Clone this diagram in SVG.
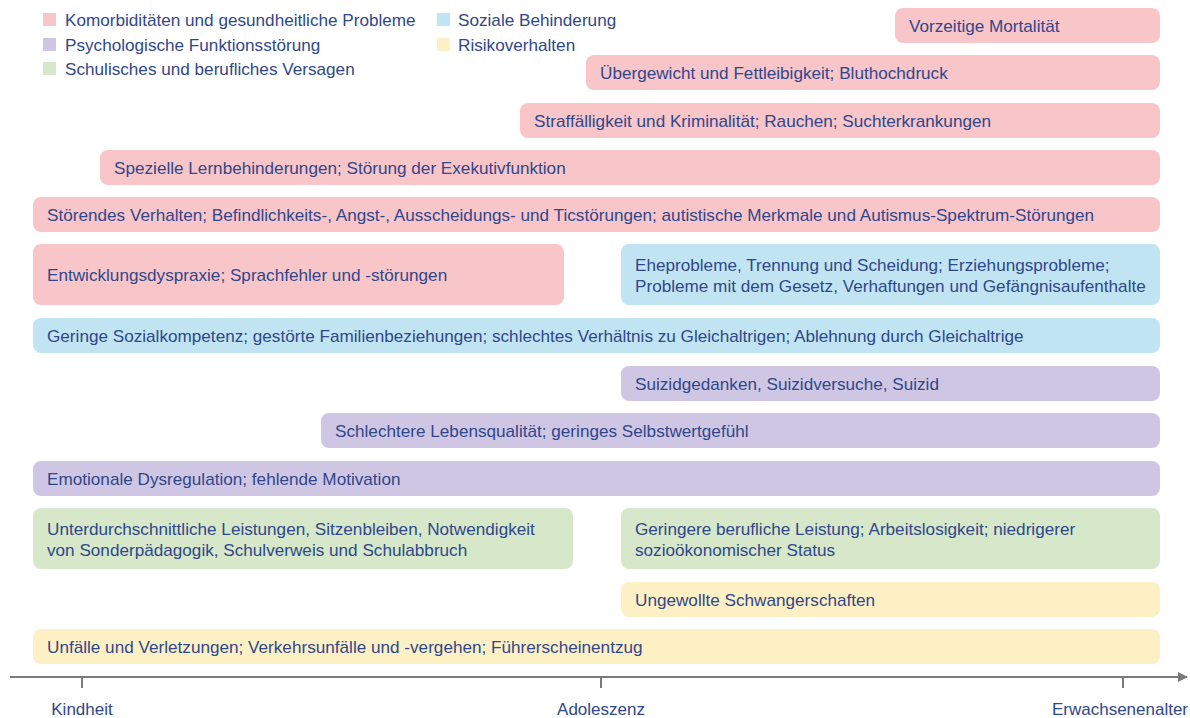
<svg xmlns="http://www.w3.org/2000/svg" width="1190" height="718" viewBox="0 0 1190 718">
<defs>
<style>
text{font-family:"Liberation Sans",Arial,sans-serif;font-size:17.15px;fill:#30478b}
.pink{fill:#f8c5c9}
.blue{fill:#c1e4f3}
.purple{fill:#cfc6e4}
.green{fill:#d6e8c9}
.yellow{fill:#fef0c5}
.axis{stroke:#7a7a7a;stroke-width:2;fill:none}
.ax{text-anchor:middle;font-size:17px}
</style>
<marker id="arr" viewBox="0 0 10 10" refX="9" refY="5" markerWidth="5" markerHeight="5" orient="auto" markerUnits="strokeWidth">
<path d="M0,0 L10,5 L0,10 z" fill="#7a7a7a"/>
</marker>
</defs>
<rect width="1190" height="718" fill="#ffffff"/>
<g id="legend">
<rect class="pink" x="43" y="13" width="13" height="13"/><text x="65" y="26">Komorbiditäten und gesundheitliche Probleme</text>
<rect class="purple" x="43" y="38" width="13" height="13"/><text x="65" y="51">Psychologische Funktionsstörung</text>
<rect class="green" x="43" y="62" width="13" height="13"/><text x="65" y="75">Schulisches und berufliches Versagen</text>
<rect class="blue" x="437" y="13" width="13" height="13"/><text x="458" y="26">Soziale Behinderung</text>
<rect class="yellow" x="437" y="38" width="13" height="13"/><text x="458" y="51">Risikoverhalten</text>
</g>
<g id="n1"><rect class="pink" x="895" y="8" width="265" height="35" rx="8"/><text x="909" y="31.5">Vorzeitige Mortalität</text></g>
<g id="n2"><rect class="pink" x="586" y="55" width="574" height="35" rx="8"/><text x="600" y="78.5">Übergewicht und Fettleibigkeit; Bluthochdruck</text></g>
<g id="n3"><rect class="pink" x="520" y="103" width="640" height="35" rx="8"/><text x="534" y="126.5">Straffälligkeit und Kriminalität; Rauchen; Suchterkrankungen</text></g>
<g id="n4"><rect class="pink" x="100" y="150" width="1060" height="35" rx="8"/><text x="114" y="173.5">Spezielle Lernbehinderungen; Störung der Exekutivfunktion</text></g>
<g id="n5"><rect class="pink" x="33" y="197" width="1127" height="35" rx="8"/><text x="47" y="220.5">Störendes Verhalten; Befindlichkeits-, Angst-, Ausscheidungs- und Ticstörungen; autistische Merkmale und Autismus-Spektrum-Störungen</text></g>
<g id="n6"><rect class="pink" x="33" y="244" width="531" height="61" rx="8"/><text x="47" y="281">Entwicklungsdyspraxie; Sprachfehler und -störungen</text></g>
<g id="n7"><rect class="blue" x="621" y="244" width="539" height="61" rx="8"/><text x="635" y="271">Eheprobleme, Trennung und Scheidung; Erziehungsprobleme;</text><text x="635" y="292">Probleme mit dem Gesetz, Verhaftungen und Gefängnisaufenthalte</text></g>
<g id="n8"><rect class="blue" x="33" y="318" width="1127" height="35" rx="8"/><text x="47" y="341.5">Geringe Sozialkompetenz; gestörte Familienbeziehungen; schlechtes Verhältnis zu Gleichaltrigen; Ablehnung durch Gleichaltrige</text></g>
<g id="n9"><rect class="purple" x="621" y="366" width="539" height="35" rx="8"/><text x="635" y="389.5">Suizidgedanken, Suizidversuche, Suizid</text></g>
<g id="n10"><rect class="purple" x="321" y="413" width="839" height="35" rx="8"/><text x="335" y="436.5">Schlechtere Lebensqualität; geringes Selbstwertgefühl</text></g>
<g id="n11"><rect class="purple" x="33" y="461" width="1127" height="35" rx="8"/><text x="47" y="484.5">Emotionale Dysregulation; fehlende Motivation</text></g>
<g id="n12"><rect class="green" x="33" y="508" width="540" height="61" rx="8"/><text x="47" y="535">Unterdurchschnittliche Leistungen, Sitzenbleiben, Notwendigkeit</text><text x="47" y="556">von Sonderpädagogik, Schulverweis und Schulabbruch</text></g>
<g id="n13"><rect class="green" x="621" y="508" width="539" height="61" rx="8"/><text x="635" y="535">Geringere berufliche Leistung; Arbeitslosigkeit; niedrigerer</text><text x="635" y="556">sozioökonomischer Status</text></g>
<g id="n14"><rect class="yellow" x="621" y="582" width="539" height="35" rx="8"/><text x="635" y="605.5">Ungewollte Schwangerschaften</text></g>
<g id="n15"><rect class="yellow" x="33" y="629" width="1127" height="35" rx="8"/><text x="47" y="652.5">Unfälle und Verletzungen; Verkehrsunfälle und -vergehen; Führerscheinentzug</text></g>
<g id="connectors">
<line class="axis" x1="10" y1="677" x2="1187" y2="677" marker-end="url(#arr)"/>
<line class="axis" x1="82" y1="677" x2="82" y2="688"/>
<line class="axis" x1="601" y1="677" x2="601" y2="688"/>
<line class="axis" x1="1123" y1="677" x2="1123" y2="688"/>
</g>
<g id="axis-labels">
<text class="ax" x="82" y="715">Kindheit</text>
<text class="ax" x="601" y="715">Adoleszenz</text>
<text class="ax" x="1120" y="715">Erwachsenenalter</text>
</g>
</svg>
